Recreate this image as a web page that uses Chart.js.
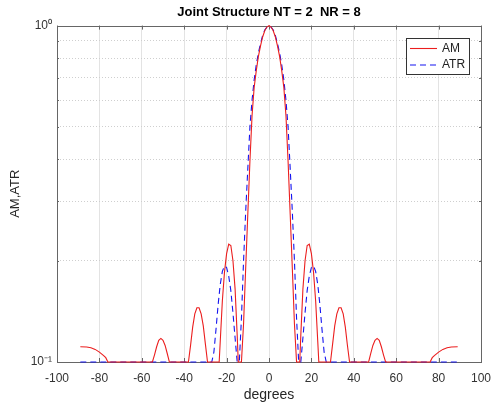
<!DOCTYPE html>
<html>
<head>
<meta charset="utf-8">
<script src="https://cdn.jsdelivr.net/npm/chart.js@4"></script>
<style>
    html, body { margin: 0; padding: 0; background: #fff; }
</style>
</head>
<body>
<canvas id="myChart" width="492" height="406"></canvas>
<script>
const ctx = document.getElementById('myChart').getContext('2d');

// AM (red, solid), values under 0.1 sit on the floor
const amDeg = [
    -89, -86, -84, -82, -80, -78, -77, -76,
    -55, -54, -53, -52, -51, -50, -49, -48, -47,
    -38, -37, -36, -35, -34, -33, -32, -31, -30, -29,
    -23.5, -23, -22, -21, -20, -19, -18, -17, -16, -15, -14.5,
    -13, -12, -11, -10, -9, -8, -7, -6, -5, -4, -3, -2, -1, 0,
    1, 2, 3, 4, 5, 6, 7, 8, 9, 10, 11, 12, 13,
    14.5, 15, 16, 17, 18, 19, 20, 21, 22, 23, 23.5,
    29, 30, 31, 32, 33, 34, 35, 36, 37, 38,
    47, 48, 49, 50, 51, 52, 53, 54, 55,
    76, 77, 78, 80, 82, 84, 86, 89
];
const amVal = [
    0.111, 0.1108, 0.1102, 0.109, 0.107, 0.1045, 0.103, 0.1,
    0.1, 0.105, 0.111, 0.116, 0.1175, 0.116, 0.112, 0.106, 0.1,
    0.1, 0.112, 0.127, 0.139, 0.145, 0.145, 0.139, 0.128, 0.113, 0.1,
    0.1, 0.115, 0.152, 0.185, 0.21, 0.224, 0.222, 0.2, 0.165, 0.12, 0.1,
    0.1, 0.13, 0.19, 0.275, 0.395, 0.54, 0.655, 0.735, 0.81, 0.87, 0.925, 0.965, 0.99, 1,
    0.99, 0.965, 0.925, 0.87, 0.81, 0.735, 0.655, 0.54, 0.395, 0.275, 0.19, 0.13, 0.1,
    0.1, 0.12, 0.165, 0.2, 0.222, 0.224, 0.21, 0.185, 0.152, 0.115, 0.1,
    0.1, 0.113, 0.128, 0.139, 0.145, 0.145, 0.139, 0.127, 0.112, 0.1,
    0.1, 0.106, 0.112, 0.116, 0.1175, 0.116, 0.111, 0.105, 0.1,
    0.1, 0.103, 0.1045, 0.107, 0.109, 0.1102, 0.1108, 0.111
];

// ATR (blue, dashed)
const atrDeg = [
    -89, -27, -26, -25, -24, -23, -22, -21, -20, -19, -18, -17, -16, -15,
    -14, -13, -12, -11, -10, -9, -8, -7, -6, -5, -4, -3, -2, -1, 0,
    1, 2, 3, 4, 5, 6, 7, 8, 9, 10, 11, 12, 13, 14,
    15, 16, 17, 18, 19, 20, 21, 22, 23, 24, 25, 26, 27, 89
];
const atrVal = [
    0.1, 0.1, 0.107, 0.125, 0.148, 0.17, 0.186, 0.193, 0.191, 0.18, 0.163, 0.14, 0.118, 0.1,
    0.1, 0.135, 0.2, 0.28, 0.375, 0.5, 0.6, 0.69, 0.765, 0.83, 0.885, 0.935, 0.97, 0.99, 1,
    0.99, 0.97, 0.935, 0.885, 0.83, 0.765, 0.69, 0.6, 0.5, 0.375, 0.28, 0.2, 0.135, 0.1,
    0.1, 0.118, 0.14, 0.163, 0.18, 0.191, 0.193, 0.186, 0.17, 0.148, 0.125, 0.107, 0.1, 0.1
];

const xTicks = [-100, -80, -60, -40, -20, 0, 20, 40, 60, 80, 100];
const yTicks = [0.1, 0.2, 0.3, 0.4, 0.5, 0.6, 0.7, 0.8, 0.9, 1];
const yTickLabels = { 0.1: '10⁻¹', 1: '10⁰' };

const FONT = '"Liberation Sans", Arial, sans-serif';

// box round the axes plus matlab-style inward ticks
const frame = {
    id: 'frame',
    beforeDatasetsDraw(chart) {
        const { ctx, chartArea: a, scales: { x, y } } = chart;
        ctx.save();
        ctx.strokeStyle = '#666';
        ctx.lineWidth = 1;
        ctx.beginPath();
        x.ticks.forEach(t => {
            const px = Math.round(x.getPixelForValue(t.value)) + 0.5;
            ctx.moveTo(px, a.bottom); ctx.lineTo(px, a.bottom - 4);
            ctx.moveTo(px, a.top); ctx.lineTo(px, a.top + 4);
        });
        y.ticks.forEach(t => {
            const py = Math.round(y.getPixelForValue(t.value)) + 0.5;
            const len = t.major ? 4 : 2;
            ctx.moveTo(a.left, py); ctx.lineTo(a.left + len, py);
            ctx.moveTo(a.right, py); ctx.lineTo(a.right - len, py);
        });
        ctx.stroke();
        ctx.strokeRect(Math.round(a.left) + 0.5, Math.round(a.top) + 0.5,
            Math.round(a.width), Math.round(a.height));
        ctx.restore();
    }
};

// legend box in the top right corner of the plot
const boxLegend = {
    id: 'boxLegend',
    afterDraw(chart) {
        const { ctx, chartArea: a } = chart;
        const w = 63, h = 36;
        const bx = Math.round(a.right - 12 - w), by = Math.round(a.top + 12);
        ctx.save();
        ctx.fillStyle = '#fff';
        ctx.fillRect(bx, by, w, h);
        ctx.strokeStyle = '#333';
        ctx.lineWidth = 1;
        ctx.strokeRect(bx + 0.5, by + 0.5, w, h);
        ctx.font = '12px ' + FONT;
        ctx.textBaseline = 'middle';
        chart.data.datasets.forEach((ds, i) => {
            const ly = by + 10.5 + i * 16.5;
            ctx.strokeStyle = ds.borderColor;
            ctx.lineWidth = ds.borderWidth;
            ctx.setLineDash(ds.borderDash || []);
            ctx.beginPath();
            ctx.moveTo(bx + 4, ly);
            ctx.lineTo(bx + 31, ly);
            ctx.stroke();
            ctx.setLineDash([]);
            ctx.fillStyle = '#222';
            ctx.fillText(ds.label, bx + 36, ly);
        });
        ctx.restore();
    }
};

const myChart = new Chart(ctx, {
    type: 'line',
    data: {
        datasets: [
            {
                label: 'AM',
                data: amDeg.map((d, i) => ({ x: d, y: amVal[i] })),
                borderColor: 'rgb(235, 30, 30)',
                borderWidth: 1.1,
                pointRadius: 0,
                clip: 4
            },
            {
                label: 'ATR',
                data: atrDeg.map((d, i) => ({ x: d, y: atrVal[i] })),
                borderColor: 'rgb(20, 20, 240)',
                borderWidth: 1.1,
                borderDash: [6, 4],
                pointRadius: 0,
                clip: 4
            }
        ]
    },
    options: {
        responsive: false,
        animation: false,
        layout: {
            padding: { left: 0, right: 11, top: 0, bottom: 0 }
        },
        plugins: {
            legend: { display: false },
            tooltip: { enabled: false },
            title: {
                display: true,
                text: 'Joint Structure NT = 2  NR = 8',
                fullSize: false,
                color: '#000',
                font: { family: FONT, size: 13, weight: 'bold' },
                padding: { top: 5, bottom: 5 }
            }
        },
        scales: {
            x: {
                type: 'linear',
                min: -100,
                max: 100,
                afterBuildTicks: scale => {
                    scale.ticks = xTicks.map(v => ({ value: v }));
                },
                afterFit: scale => {
                    scale.height = 44;
                    scale.paddingLeft = 0;
                    scale.paddingRight = 0;
                },
                border: { display: false },
                grid: {
                    color: '#e3e3e3',
                    drawTicks: false
                },
                ticks: {
                    padding: 9,
                    color: '#333',
                    font: { family: FONT, size: 12 },
                    maxRotation: 0,
                    autoSkip: false
                },
                title: {
                    display: true,
                    text: 'degrees',
                    color: '#262626',
                    font: { family: FONT, size: 14 },
                    padding: { top: 0, bottom: 2 }
                }
            },
            y: {
                type: 'logarithmic',
                min: 0.1,
                max: 1,
                afterBuildTicks: scale => {
                    scale.ticks = yTicks.map(v => ({ value: v, major: v in yTickLabels }));
                },
                afterFit: scale => {
                    scale.width = 57;
                    scale.paddingTop = 0;
                    scale.paddingBottom = 0;
                },
                border: {
                    display: false,
                    dash: [1, 2]
                },
                grid: {
                    color: c => (c.tick && c.tick.major) ? 'rgba(0,0,0,0)' : '#cfcfcf',
                    drawTicks: false
                },
                ticks: {
                    padding: 5,
                    color: '#333',
                    autoSkip: false,
                    font: { family: FONT, size: 12 },
                    callback: v => yTickLabels[v] || ''
                },
                title: {
                    display: true,
                    text: 'AM,ATR',
                    color: '#262626',
                    font: { family: FONT, size: 13 },
                    padding: { top: 8, bottom: 0 }
                }
            }
        }
    },
    plugins: [frame, boxLegend]
});
</script>
</body>
</html>
